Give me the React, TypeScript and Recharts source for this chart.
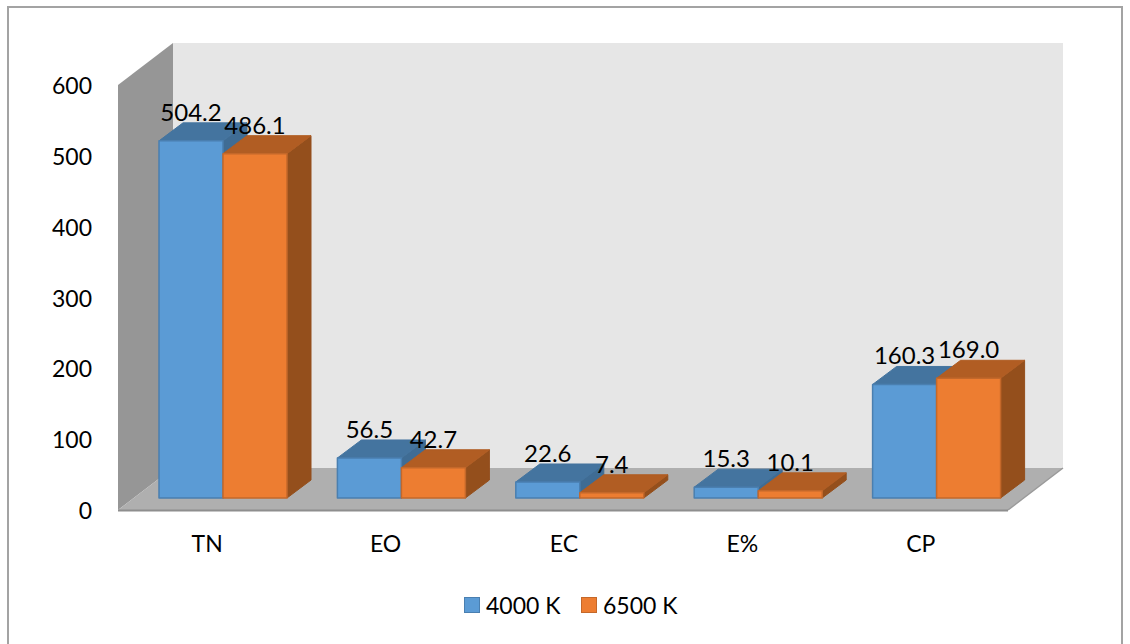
import React from 'react';
import { Bar, BarChart, Customized, LabelList, Legend, XAxis, YAxis } from 'recharts';

const categories = ['TN', 'EO', 'EC', 'E%', 'CP'];
const values4000 = [504.2, 56.5, 22.6, 15.3, 160.3];
const values6500 = [486.1, 42.7, 7.4, 10.1, 169.0];
const yTicks = [0, 100, 200, 300, 400, 500, 600];

const data = categories.map((name, i) => ({
  name,
  k4000: values4000[i],
  k6500: values6500[i]
}));

const FONT = 'Lato, "Open Sans", sans-serif';

// Front plane of the plot box, in svg pixels
const LEFT = 118;
const RIGHT = 1008;
const TOP = 85;
const BOTTOM = 510;
// Categories run a little wider than the floor's front edge
const BAND_RIGHT = 1010;

// How far the room recedes, and where the columns stand inside it
const WALL_DX = 55;
const WALL_DY = 42;
const BAR_DX = 16;
const BAR_DY = -12;
const DEPTH_DX = 24;
const DEPTH_DY = 18;

const poly = (pts: number[][]) => pts.map((p) => p.join(',')).join(' ');

const Room = () => (
  <g>
    <polygon
      points={poly([
        [LEFT + WALL_DX, TOP - WALL_DY],
        [RIGHT + WALL_DX, TOP - WALL_DY],
        [RIGHT + WALL_DX, BOTTOM - WALL_DY],
        [LEFT + WALL_DX, BOTTOM - WALL_DY]
      ])}
      fill="#e6e6e6"
    />
    <polygon
      points={poly([
        [LEFT, TOP],
        [LEFT + WALL_DX, TOP - WALL_DY],
        [LEFT + WALL_DX, BOTTOM - WALL_DY],
        [LEFT, BOTTOM]
      ])}
      fill="#969696"
    />
    <polygon
      points={poly([
        [LEFT + WALL_DX, BOTTOM - WALL_DY],
        [RIGHT + WALL_DX, BOTTOM - WALL_DY],
        [RIGHT, BOTTOM],
        [LEFT, BOTTOM]
      ])}
      fill="#afafaf"
    />
    <line x1={LEFT} y1={BOTTOM + 0.5} x2={RIGHT} y2={BOTTOM + 0.5} stroke="#8e8e8e" strokeWidth={2} />
    <line x1={RIGHT} y1={BOTTOM} x2={RIGHT + WALL_DX} y2={BOTTOM - WALL_DY} stroke="#9a9a9a" strokeWidth={1.5} />
  </g>
);

// Column drawn as a box: side and top faces first, the front on top of them
const makeBox = (stroke: string, topFill: string, sideFill: string) => (props: any) => {
  const { x, y, width, height, fill } = props;
  const l = x + BAR_DX;
  const t = y + BAR_DY;
  const r = l + width;
  const b = t + height;
  return (
    <g strokeLinejoin="round">
      <polygon
        points={poly([
          [r, t],
          [r + DEPTH_DX, t - DEPTH_DY],
          [r + DEPTH_DX, b - DEPTH_DY],
          [r, b]
        ])}
        fill={sideFill}
        stroke={sideFill}
      />
      <polygon
        points={poly([
          [l, t],
          [l + DEPTH_DX, t - DEPTH_DY],
          [r + DEPTH_DX, t - DEPTH_DY],
          [r, t]
        ])}
        fill={topFill}
        stroke={topFill}
      />
      <rect x={l} y={t} width={width} height={height} fill={fill} stroke={stroke} strokeWidth={1.5} />
    </g>
  );
};

const BarValue = (props: any) => {
  const { x, y, width, value } = props;
  return (
    <text
      x={x + BAR_DX + width / 2}
      y={y + BAR_DY - 20}
      textAnchor="middle"
      fontFamily={FONT}
      fontSize={24}
      fill="#000"
    >
      {Number(value).toFixed(1)}
    </text>
  );
};

const LegendRow = ({ payload }: any) => (
  <div style={{ position: 'relative', height: 30, fontFamily: FONT, fontSize: 23, color: '#000' }}>
    {(payload || []).map((entry: any, i: number) => (
      <div
        key={entry.value}
        style={{ position: 'absolute', left: 464 + i * 117, top: 0, display: 'flex', alignItems: 'center', height: 30 }}
      >
        <span
          style={{
            display: 'inline-block',
            boxSizing: 'border-box',
            width: 16,
            height: 16,
            marginRight: 6,
            background: entry.color,
            border: `1.5px solid ${entry.payload.stroke}`
          }}
        />
        {entry.value}
      </div>
    ))}
  </div>
);

export default function App() {
  return (
    <div
      style={{ position: 'absolute', left: 0, top: 0, width: 1130, height: 644, background: '#fff', overflow: 'hidden' }}
    >
      <div
        style={{
          position: 'absolute',
          left: 7,
          top: 6,
          width: 1116,
          height: 660,
          border: '2px solid #a3a3a3',
          boxSizing: 'border-box'
        }}
      />
      <BarChart
        width={1130}
        height={644}
        data={data}
        barSize={64}
        barGap={0}
        margin={{ top: TOP, right: 1130 - BAND_RIGHT, left: LEFT - 60, bottom: 644 - BOTTOM - 50 - 30 }}
        style={{ position: 'absolute', left: 0, top: 0 }}
      >
        <Customized component={Room} />
        <XAxis
          dataKey="name"
          height={50}
          axisLine={false}
          tickLine={false}
          tickSize={0}
          tickMargin={26}
          tick={{ fontFamily: FONT, fontSize: 23, fill: '#000' }}
        />
        <YAxis
          width={60}
          domain={[0, 600]}
          ticks={yTicks}
          axisLine={false}
          tickLine={false}
          tickSize={0}
          tickMargin={26}
          tick={{ fontFamily: FONT, fontSize: 23, fill: '#000', dy: 1 }}
        />
        <Legend
          height={30}
          content={<LegendRow />}
          wrapperStyle={{ left: 0, top: 590, width: 1130 }}
        />
        <Bar
          dataKey="k4000"
          name="4000 K"
          fill="#5b9bd5"
          stroke="#4a7fb0"
          isAnimationActive={false}
          shape={makeBox('#4a7fb0', '#44749f', '#3f6c94')}
        >
          <LabelList dataKey="k4000" content={<BarValue />} />
        </Bar>
        <Bar
          dataKey="k6500"
          name="6500 K"
          fill="#ed7d31"
          stroke="#c4682a"
          isAnimationActive={false}
          shape={makeBox('#c4682a', '#b15d23', '#944f1c')}
        >
          <LabelList dataKey="k6500" content={<BarValue />} />
        </Bar>
      </BarChart>
    </div>
  );
}
